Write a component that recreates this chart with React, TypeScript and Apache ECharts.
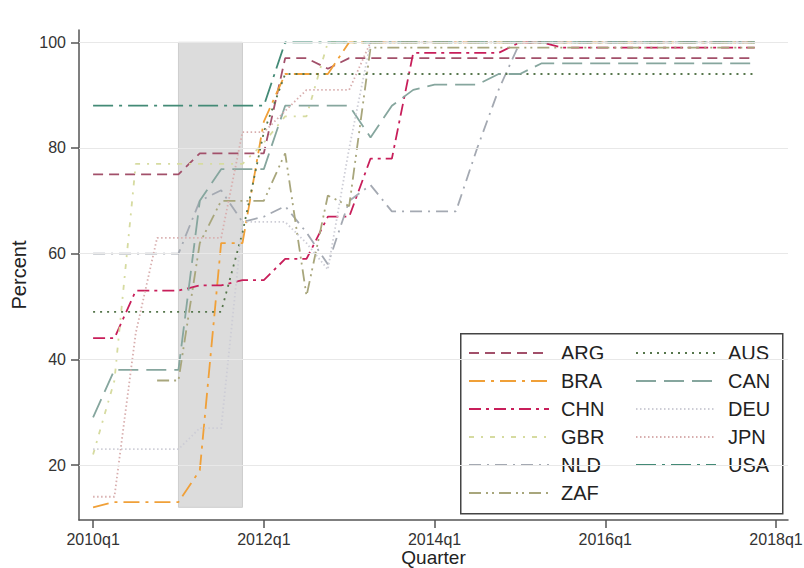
import React, { useEffect, useRef } from "react";
import * as echarts from "echarts";

// Quarter index 0 = 2010q1 ... 31 = 2017q4
const xTickValues = [0, 8, 16, 24, 32];
const xTickLabels = ["2010q1", "2012q1", "2014q1", "2016q1", "2018q1"];
const yTickValues = [20, 40, 60, 80, 100];

const ARG = [75,75,75,75,75,79,79,79,79,97,97,95,97,97,97,97,97,97,97,97,97,97,97,97,97,97,97,97,97,97,97,97];
const BRA = [12,13,13,13,13,19,62,62,85,94,94,94,100,100,100,100,100,100,100,100,100,100,100,100,100,100,100,100,100,100,100,100];
const CHN = [44,44,53,53,53,54,54,55,55,59,59,67,67,78,78,98,98,98,98,98,100,100,99,99,99,99,99,99,99,99,99,99];
const GBR = [22,36,77,77,77,77,77,77,81,86,86,100,100,100,100,100,100,100,100,100,100,100,100,100,100,100,100,100,100,100,100,100];
const NLD = [60,60,60,60,60,70,72,66,67,69,64,58,70,73,68,68,68,68,80,91,100,100,100,100,100,100,100,100,100,100,100,100];
const ZAF = [null,null,null,36,36,62,70,70,70,79,52,71,69,99,99,99,99,99,99,99,99,99,99,99,99,99,99,99,99,99,99,99];
const AUS = [49,49,49,49,49,49,49,64,83,94,94,94,94,94,94,94,94,94,94,94,94,94,94,94,94,94,94,94,94,94,94,94];
const CAN = [29,38,38,38,38,70,76,76,76,88,88,88,88,82,88,91,92,92,92,94,94,96,96,96,96,96,96,96,96,96,96,96];
const DEU = [23,23,23,23,23,27,27,66,66,66,62,57,80,100,100,100,100,100,100,100,100,100,100,100,100,100,100,100,100,100,100,100];
const JPN = [14,14,45,63,63,63,63,83,83,87,91,91,91,100,100,100,100,100,100,100,100,100,100,100,100,100,100,100,100,100,100,100];
const USA = [88,88,88,88,88,88,88,88,88,100,100,100,100,100,100,100,100,100,100,100,100,100,100,100,100,100,100,100,100,100,100,100];

// shaded period (2011q1 - 2011q4)
const shadeX = [4, 7];
const shadeY = [12, 100];

const legendCol1 = ["ARG", "BRA", "CHN", "GBR", "NLD", "ZAF"];
const legendCol2 = ["AUS", "CAN", "DEU", "JPN", "USA"];

const FONT = "'Liberation Sans', Arial, Helvetica, sans-serif";

const seriesDefs: { name: string; values: (number | null)[]; color: string; dash: number[] }[] = [
  { name: "ARG", values: ARG, color: "#a2506a", dash: [10, 6] },
  { name: "BRA", values: BRA, color: "#f0a038", dash: [16, 6, 3, 6] },
  { name: "CHN", values: CHN, color: "#c81e5a", dash: [12, 5, 3, 5] },
  { name: "GBR", values: GBR, color: "#d6dba0", dash: [5, 7, 2, 7] },
  { name: "NLD", values: NLD, color: "#a4a9b2", dash: [12, 6, 2, 6] },
  { name: "ZAF", values: ZAF, color: "#a8a67c", dash: [12, 5, 2, 4, 2, 5] },
  { name: "AUS", values: AUS, color: "#56764c", dash: [2, 5] },
  { name: "CAN", values: CAN, color: "#86a69e", dash: [20, 8] },
  { name: "DEU", values: DEU, color: "#cdcdd6", dash: [1.5, 2.5] },
  { name: "JPN", values: JPN, color: "#d8aeae", dash: [1.5, 2.5] },
  { name: "USA", values: USA, color: "#438a76", dash: [20, 6, 3, 6] },
];

export default function App() {
  const ref = useRef<HTMLDivElement>(null);
  useEffect(() => {
    if (!ref.current) return;
    const chart = echarts.init(ref.current, undefined, { renderer: "svg" });
    const lineSeries = seriesDefs.map((s) => ({
      name: s.name,
      type: "line",
      symbol: "none",
      showSymbol: false,
      z: 3,
      data: s.values
        .map((v, i) => [i, v])
        .filter((p) => p[1] !== null),
      lineStyle: { color: s.color, width: 1.8, type: s.dash },
      itemStyle: { color: s.color },
    }));
    const legendCommon = {
      orient: "vertical",
      itemWidth: 80,
      itemHeight: 20,
      itemGap: 8,
      padding: 0,
      top: 343,
      selectedMode: false,
      z: 5,
      itemStyle: { color: "rgba(0,0,0,0)", borderWidth: 0, borderColor: "rgba(0,0,0,0)" },
      lineStyle: { width: 2 },
      textStyle: { fontSize: 20, color: "#222", fontFamily: FONT, padding: [0, 0, 0, 7] },
    };
    const option: any = {
      animation: false,
      backgroundColor: "#ffffff",
      grid: { left: 79, right: 16, top: 30, bottom: 48, outerBoundsMode: "none", containLabel: false },
      xAxis: {
        type: "value",
        min: -0.66,
        max: 32.56,
        name: "Quarter",
        nameLocation: "middle",
        nameGap: 28,
        nameMoveOverlap: false,
        nameTextStyle: { fontSize: 19, color: "#222", fontFamily: FONT },
        axisLine: { show: true, onZero: false, lineStyle: { color: "#555", width: 1.5 } },
        axisTick: { show: true, length: 8, customValues: xTickValues, lineStyle: { color: "#555", width: 1.5 } },
        axisLabel: {
          customValues: xTickValues,
          formatter: (v: number) => xTickLabels[xTickValues.indexOf(Math.round(v))] ?? "",
          fontSize: 16,
          color: "#333",
          margin: 11,
          fontFamily: FONT,
        },
        splitLine: { show: false },
      },
      yAxis: {
        type: "value",
        min: 9.6,
        max: 102.33,
        name: "Percent",
        nameLocation: "middle",
        nameGap: 50,
        nameMoveOverlap: false,
        nameTextStyle: { fontSize: 20, color: "#222", fontFamily: FONT },
        axisLine: { show: true, onZero: false, lineStyle: { color: "#555", width: 1.5 } },
        axisTick: { show: true, length: 8, customValues: yTickValues, lineStyle: { color: "#555", width: 1.5 } },
        axisLabel: {
          customValues: yTickValues,
          fontSize: 16,
          color: "#333",
          margin: 13,
          fontFamily: FONT,
        },
        splitLine: { show: false },
      },
      legend: [
        { ...legendCommon, left: 468, data: legendCol1 },
        { ...legendCommon, left: 635, data: legendCol2 },
      ],
      graphic: [
        {
          type: "rect",
          left: 460,
          top: 333,
          z: 4,
          shape: { width: 322, height: 180 },
          style: { fill: "#ffffff", stroke: "#444", lineWidth: 1.5 },
        },
      ],
      series: [
        {
          name: "grid",
          type: "line",
          data: [],
          z: 1,
          silent: true,
          markLine: {
            silent: true,
            symbol: ["none", "none"],
            label: { show: false },
            lineStyle: { color: "#e8e8e8", width: 1, type: "solid" },
            data: yTickValues.map((v) => ({ yAxis: v })),
          },
        },
        {
          name: "shade",
          type: "line",
          data: [],
          z: 2,
          silent: true,
          markArea: {
            silent: true,
            itemStyle: { color: "#dcdcdc", borderColor: "#cdcdcd", borderWidth: 1 },
            data: [[{ xAxis: shadeX[0], yAxis: shadeY[0] }, { xAxis: shadeX[1], yAxis: shadeY[1] }]],
          },
        },
        ...lineSeries,
      ],
    };
    chart.setOption(option);
    return () => chart.dispose();
  }, []);
  return (
    <div
      ref={ref}
      style={{ position: "fixed", left: 0, top: 0, width: 804, height: 568, background: "#fff" }}
    />
  );
}
